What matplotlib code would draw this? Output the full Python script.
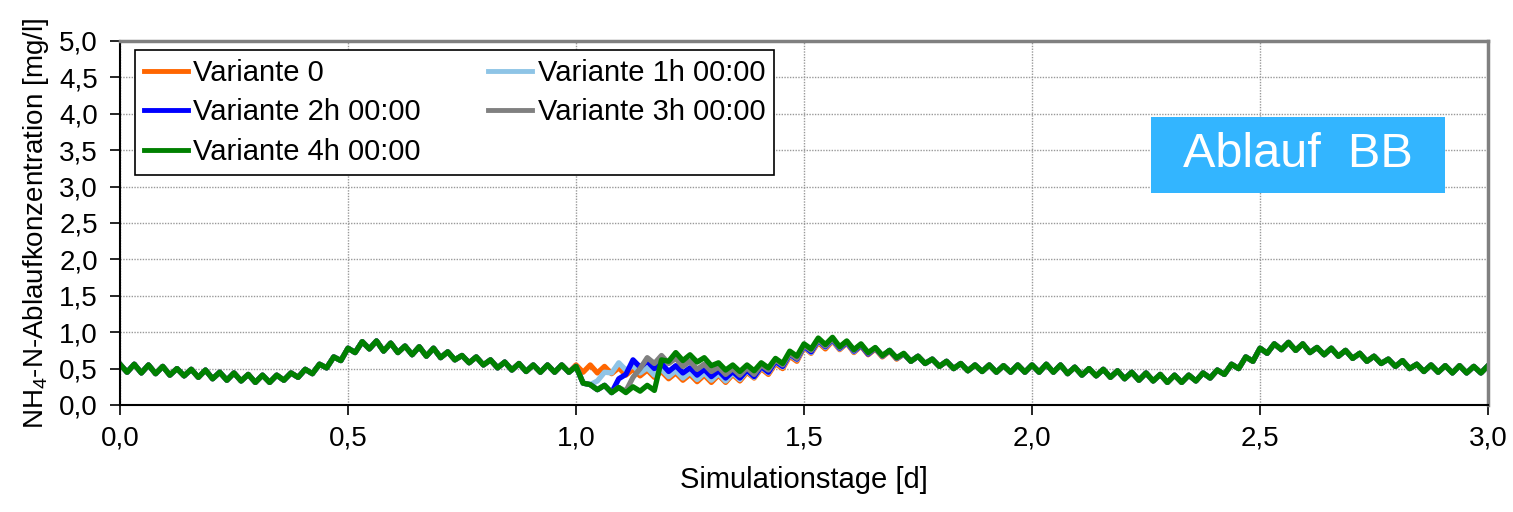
import matplotlib.pyplot as plt
import numpy as np
from matplotlib.patches import Rectangle
from matplotlib.ticker import MultipleLocator, FuncFormatter

plt.rcParams['font.family'] = ['Liberation Sans', 'DejaVu Sans']
plt.rcParams['mathtext.default'] = 'regular'

# Variante 0: Spitzen alle 45 min (t = 0 ... 3 d) und die Taeler dazwischen
peaks_v0 = [
    .56, .56, .55, .53, .50, .49, .48, .45, .44, .42, .41, .41, .44, .49, .56, .66,
    .78, .87, .88, .85, .81, .80, .78, .73, .68, .66, .62, .59, .57, .55, .55, .55,
    .55, .55, .53, .51, .49, .48, .46, .44, .42, .41, .41, .42, .45, .50, .57, .67,
    .79, .86, .88, .85, .81, .77, .74, .70, .67, .63, .60, .57, .55, .55, .54, .55,
    .55, .56, .55, .52, .50, .49, .47, .45, .44, .42, .41, .41, .44, .48, .56, .66,
    .78, .84, .86, .84, .79, .78, .75, .71, .67, .63, .61, .56, .55, .54, .54, .53,
    .54,
]
troughs_v0 = [
    .45, .44, .43, .41, .40, .38, .36, .34, .33, .31, .31, .34, .38, .43, .51, .61,
    .72, .77, .74, .72, .69, .67, .65, .62, .58, .55, .51, .48, .46, .45, .45, .45,
    .45, .44, .43, .41, .40, .38, .36, .34, .32, .31, .31, .33, .37, .42, .50, .60,
    .71, .77, .76, .72, .69, .66, .63, .60, .57, .53, .50, .47, .46, .45, .45, .45,
    .45, .45, .43, .41, .40, .38, .36, .34, .33, .31, .31, .33, .37, .42, .50, .60,
    .71, .76, .75, .72, .69, .67, .64, .60, .57, .53, .50, .46, .45, .44, .44, .44,
]

# abweichende Werte ab Tag 1,0 (Spitze/Tal im Wechsel, Raster 22,5 min)
window_start = 64
win_1h = [
    .53, .30, .28, .33, .45, .44, .58, .48, .54, .44,
    .51, .41, .49, .39, .47, .37, .45, .35, .44, .34,
    .43, .33, .44, .35, .47, .38, .52, .44, .59, .52,
    .69, .62, .80, .72, .88, .79, .89, .77, .86, .73,
    .82, .70, .78, .67, .75, .64, .70,
]
win_2h = [
    .53, .30, .28, .21, .27, .17, .36, .42, .62, .52,
    .60, .50, .57, .46, .54, .44, .51, .41, .49, .39,
    .47, .37, .46, .37, .48, .39, .53, .45, .60, .53,
    .70, .63, .81, .73, .89, .80, .90, .78, .86, .74,
    .82, .70, .78, .67, .75, .64, .70,
]
win_3h = [
    .53, .30, .28, .21, .27, .17, .24, .19, .38, .50,
    .65, .57, .68, .57, .64, .53, .60, .49, .56, .46,
    .52, .42, .50, .41, .51, .42, .55, .48, .62, .55,
    .71, .64, .82, .75, .90, .81, .91, .79, .87, .75,
    .83, .71, .78, .67, .75, .64, .70,
]
win_4h = [
    .53, .30, .28, .21, .27, .17, .24, .17, .25, .19,
    .27, .20, .62, .60, .72, .61, .69, .59, .65, .54,
    .58, .48, .55, .46, .55, .47, .58, .51, .64, .57,
    .74, .67, .84, .77, .92, .83, .93, .80, .88, .76,
    .84, .72, .79, .68, .75, .65, .71,
]

labels = ['Variante 0', 'Variante 1h 00:00', 'Variante 2h 00:00',
          'Variante 3h 00:00', 'Variante 4h 00:00']
colors = ['#FF6600', '#8EC4E6', '#0000FF', '#808080', '#008000']

# Zeitreihen zusammensetzen
v0 = np.empty(len(peaks_v0) + len(troughs_v0))
v0[0::2] = peaks_v0
v0[1::2] = troughs_v0
t = np.arange(len(v0)) / 64.0

series = [v0]
for win in [win_1h, win_2h, win_3h, win_4h]:
    s = v0.copy()
    s[window_start:window_start + len(win)] = win
    series.append(s)

fig = plt.figure(figsize=(15.13, 5.12), dpi=100)
ax = fig.add_axes([0.0793, 0.209, 0.9042, 0.711])

handles = []
for s, c, lab in zip(series, colors, labels):
    h, = ax.plot(t, s, color=c, lw=3.8, label=lab)
    handles.append(h)

ax.set_xlim(0, 3.0)
ax.set_ylim(0, 5.0)
ax.xaxis.set_major_locator(MultipleLocator(0.5))
ax.yaxis.set_major_locator(MultipleLocator(0.5))
fmt = FuncFormatter(lambda v, p: f"{v:.1f}".replace('.', ','))
ax.xaxis.set_major_formatter(fmt)
ax.yaxis.set_major_formatter(fmt)
ax.tick_params(axis='both', direction='out', length=7, width=1.2,
               labelsize=20, colors='black')
ax.tick_params(axis='y', pad=9)
ax.tick_params(axis='x', pad=8)

ax.grid(True, color='#999999', linestyle=(0, (1, 1)), linewidth=1)
ax.set_axisbelow(True)

for side in ['left', 'bottom']:
    ax.spines[side].set_color('black')
    ax.spines[side].set_linewidth(1.5)
for side in ['top', 'right']:
    ax.spines[side].set_color('#808080')
    ax.spines[side].set_linewidth(2.5)

ax.set_xlabel('Simulationstage [d]', fontsize=21, labelpad=10)
ax.set_ylabel('NH$_4$-N-Ablaufkonzentration [mg/l]', fontsize=20, labelpad=6)

# Legende: zwei Spalten wie im Original
order = [0, 2, 4, 1, 3]
leg = ax.legend([handles[i] for i in order], [labels[i] for i in order],
                ncol=2, loc='upper left', bbox_to_anchor=(0.011, 0.975),
                borderaxespad=0, fontsize=21, frameon=True, fancybox=False,
                edgecolor='black', framealpha=1, handlelength=1.5,
                handletextpad=0.2, columnspacing=2.3, labelspacing=0.4,
                borderpad=0.3)
leg.get_frame().set_linewidth(1.2)
for line in leg.get_lines():
    line.set_linewidth(3.5)

ax.add_patch(Rectangle((0.7537, 0.5824), 0.2149, 0.2088, transform=ax.transAxes,
                       facecolor='#33B5FF', edgecolor='none', zorder=5))
ax.text(0.8611, 0.6868, 'Ablauf  BB', transform=ax.transAxes, ha='center',
        va='center', fontsize=35, color='white', zorder=6)

fig.savefig('out.png', dpi=100)
